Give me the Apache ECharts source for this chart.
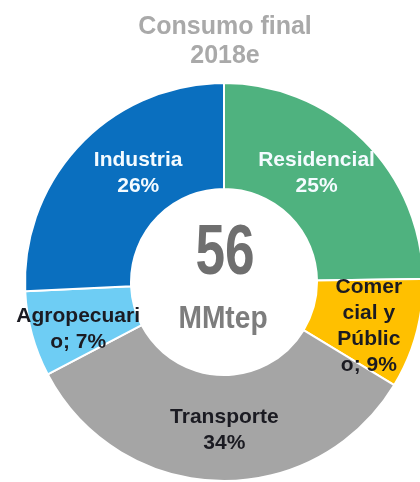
<!DOCTYPE html>
<html>
<head>
<meta charset="utf-8">
<title>Consumo final 2018e</title>
<script src="https://cdn.jsdelivr.net/npm/echarts@6/dist/echarts.min.js"></script>
<style>
  html, body { margin: 0; padding: 0; background: #ffffff; }
  #chart { width: 420px; height: 482px; }
</style>
</head>
<body>
<div id="chart"></div>
<script>
// Final energy consumption by sector, 2018 estimate (share of total, %)
const categories = ['Residencial', 'Comercial y Público', 'Transporte', 'Agropecuario', 'Industria'];
const shares = [25, 9, 34, 7, 26];
// Label text as it wraps inside each slice
const labelNames = ['Residencial', 'Comer\ncial y\nPúblic\no', 'Transporte', 'Agropecuari\no', 'Industria'];
const labelSeparators = ['\n', '; ', '\n', '; ', '\n'];
const titleLines = ['Consumo final', '2018e'];
const totalValue = '56';
const totalUnit = 'MMtep';

const sliceColors = ['#4fb27f', '#ffc000', '#a5a5a5', '#6ecdf4', '#0a6fbf'];
const labelColors = ['#f4fbff', '#1b1b22', '#1b1b22', '#1b1b22', '#f4fbff'];
const labelOffsets = [[-12, -3], [1, 5], [5, -1], [-2, 8], [22, -6]];

const chart = echarts.init(document.getElementById('chart'), null, { renderer: 'canvas' });

const seriesData = categories.map((name, i) => ({
  name: name,
  value: shares[i],
  itemStyle: { color: sliceColors[i] },
  label: {
    color: labelColors[i],
    offset: labelOffsets[i],
    formatter: () => labelNames[i] + labelSeparators[i] + shares[i] + '%'
  }
}));

const baseFont = '"Liberation Sans", Arial, sans-serif';

chart.setOption({
  backgroundColor: '#ffffff',
  animation: false,
  graphic: [
    {
      type: 'text',
      x: 225, y: 27,
      style: {
        text: titleLines[0], x: 0, y: 0,
        fill: '#a9a9a9', font: 'bold 25px ' + baseFont,
        textAlign: 'center', textVerticalAlign: 'middle'
      }
    },
    {
      type: 'text',
      x: 225, y: 56,
      style: {
        text: titleLines[1], x: 0, y: 0,
        fill: '#a9a9a9', font: 'bold 25px ' + baseFont,
        textAlign: 'center', textVerticalAlign: 'middle'
      }
    },
    {
      type: 'text',
      x: 225, y: 255, z: 10, scaleX: 0.76,
      style: {
        text: totalValue, x: 0, y: 0,
        fill: '#6f6f6f', font: 'bold 70px ' + baseFont,
        textAlign: 'center', textVerticalAlign: 'middle'
      }
    },
    {
      type: 'text',
      x: 223, y: 319, z: 10, scaleX: 0.88,
      style: {
        text: totalUnit, x: 0, y: 0,
        fill: '#7d7d7d', font: 'bold 32px ' + baseFont,
        textAlign: 'center', textVerticalAlign: 'middle'
      }
    }
  ],
  series: [{
    type: 'pie',
    center: [224, 282],
    radius: [93, 199],
    startAngle: 90,
    clockwise: true,
    avoidLabelOverlap: false,
    itemStyle: { borderColor: '#ffffff', borderWidth: 2 },
    label: {
      show: true,
      position: 'inside',
      fontFamily: baseFont,
      fontWeight: 'bold',
      fontSize: 21,
      lineHeight: 26,
      align: 'center'
    },
    labelLine: { show: false },
    emphasis: { disabled: true },
    data: seriesData
  }]
});
</script>
</body>
</html>
